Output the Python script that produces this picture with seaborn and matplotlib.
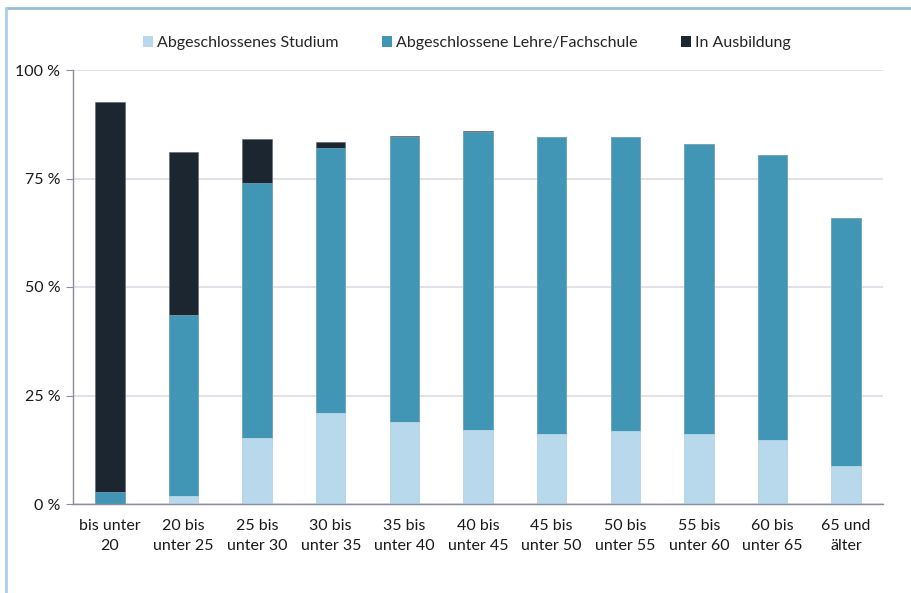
import matplotlib
matplotlib.use('Agg')
import matplotlib.pyplot as plt
import seaborn as sns
import numpy as np
import pandas as pd
from matplotlib.lines import Line2D
from matplotlib.patches import Patch

# Age groups (x axis)
categories = ['bis unter\n20', '20 bis\nunter 25', '25 bis\nunter 30', '30 bis\nunter 35',
              '35 bis\nunter 40', '40 bis\nunter 45', '45 bis\nunter 50', '50 bis\nunter 55',
              '55 bis\nunter 60', '60 bis\nunter 65', '65 und\nälter']

# Shares in percent
studium = [0.0, 1.8, 15.2, 21.0, 18.9, 17.1, 16.1, 16.8, 16.1, 14.7, 8.8]
lehre = [2.8, 41.7, 58.8, 61.0, 65.7, 68.6, 68.5, 67.8, 66.9, 65.7, 57.1]
ausbildung = [89.8, 37.6, 10.1, 1.4, 0.3, 0.2, 0.0, 0.0, 0.0, 0.0, 0.0]

series_names = ['Abgeschlossenes Studium', 'Abgeschlossene Lehre/Fachschule', 'In Ausbildung']
colors = ['#B7D9EB', '#4196B5', '#1B2631']

sns.set_style('white')
plt.rcParams['font.family'] = ['Lato', 'DejaVu Sans']

df = pd.DataFrame({'Altersgruppe': categories,
                   'Studium': studium, 'Lehre': lehre, 'Ausbildung': ausbildung})
# cumulative heights for stacking (draw back to front)
df['top3'] = df['Studium'] + df['Lehre'] + df['Ausbildung']
df['top2'] = df['Studium'] + df['Lehre']
df['top1'] = df['Studium']

fig = plt.figure(figsize=(9.12, 5.93), dpi=100)
ax = fig.add_axes([73 / 912, 1 - 504 / 593, 810 / 912, 434 / 593])

edges = ['#5A6470', '#8FBFD3', '#D8E8F2']
for col, c, e in zip(['top3', 'top2', 'top1'], colors[::-1], edges):
    sns.barplot(data=df, x='Altersgruppe', y=col, color=c, width=0.4,
                saturation=1, edgecolor=e, linewidth=0.4, ax=ax)

ax.set_xlim(-0.5, len(categories) - 0.5)
ax.set_ylim(0, 100)
ax.set_yticks([0, 25, 50, 75, 100])
ax.set_yticklabels(['0 %', '25 %', '50 %', '75 %', '100 %'])
ax.yaxis.grid(True, color='#DCDCE6', linewidth=1.2)
ax.set_axisbelow(True)
ax.set_xlabel('')
ax.set_ylabel('')

for s in ['top', 'right']:
    ax.spines[s].set_visible(False)
for s in ['left', 'bottom']:
    ax.spines[s].set_color('#8C8C9C')
    ax.spines[s].set_linewidth(1.0)

ax.tick_params(axis='y', which='both', left=True, length=5, color='#8C8C9C',
               labelsize=11.5, labelcolor='#1a1a1a', pad=4)
ax.tick_params(axis='x', bottom=False, labelsize=11.5, labelcolor='#1a1a1a', pad=7)
for lbl in ax.get_xticklabels():
    lbl.set_linespacing(1.55)

handles = [Patch(facecolor=c, edgecolor='none') for c in colors]
fig.legend(handles, series_names, loc='center', bbox_to_anchor=(467 / 912, 1 - 43 / 593),
           ncol=3, frameon=False, fontsize=11.5, handlelength=0.6, handleheight=0.7,
           handletextpad=0.3, columnspacing=2.7)

# outer frame lines (top and left)
fig.add_artist(Line2D([6 / 912, 1], [1 - 8 / 593, 1 - 8 / 593], color='#94BFD4',
                      linewidth=2, transform=fig.transFigure))
fig.add_artist(Line2D([6.5 / 912, 6.5 / 912], [0, 1 - 8 / 593], color='#A8D0E6',
                      linewidth=2, transform=fig.transFigure))

fig.savefig('out.png', dpi=100)
